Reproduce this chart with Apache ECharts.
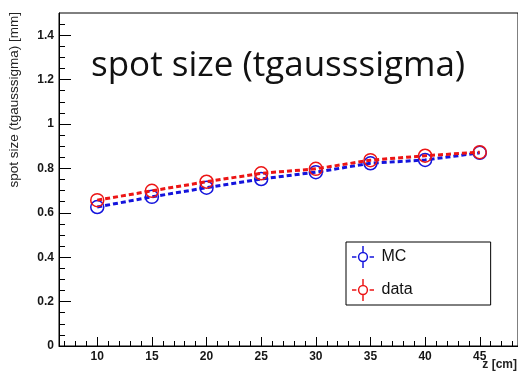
<!DOCTYPE html>
<html>
<head>
<meta charset="utf-8">
<script src="https://cdn.jsdelivr.net/npm/echarts@6/dist/echarts.min.js"></script>
<style>
  html, body { margin: 0; padding: 0; background: #fff; }
  #chart { width: 518px; height: 377px; }
</style>
</head>
<body>
<div id="chart"></div>
<script>
// Beam position along z [cm]
const zValues = [10, 15, 20, 25, 30, 35, 40, 45];
// Fitted spot size (tgausssigma) [mm]
const mcSigma   = [0.626, 0.672, 0.713, 0.752, 0.783, 0.823, 0.838, 0.870];
const dataSigma = [0.657, 0.699, 0.740, 0.778, 0.798, 0.837, 0.857, 0.873];

// Tick marks
const xMajorTicks = [10, 15, 20, 25, 30, 35, 40, 45];
const xMinorTicks = [7, 8, 9, 11, 12, 13, 14, 16, 17, 18, 19, 21, 22, 23, 24, 26, 27, 28, 29,
                     31, 32, 33, 34, 36, 37, 38, 39, 41, 42, 43, 44, 46, 47, 48];
const yMajorTicks = [0, 0.2, 0.4, 0.6, 0.8, 1, 1.2, 1.4];
const yMinorTicks = [0.05, 0.1, 0.15, 0.25, 0.3, 0.35, 0.45, 0.5, 0.55, 0.65, 0.7, 0.75,
                     0.85, 0.9, 0.95, 1.05, 1.1, 1.15, 1.25, 1.3, 1.35, 1.45];

const BLUE = '#1414dc';
const RED = '#ec1515';
const FONT = '"Liberation Sans", Arial, sans-serif';

// Legend marker: dashes, open circle and error bar
const markerIcon = 'path://M0 14L6 14L6 16L0 16Z M24 14L30 14L30 16L24 16Z ' +
  'M14 0L16 0L16 8.2L14 8.2Z M14 21.8L16 21.8L16 30L14 30Z ' +
  'M8 15A7 7 0 1 1 22 15A7 7 0 1 1 8 15Z M10 15A5 5 0 1 0 20 15A5 5 0 1 0 10 15Z';

const pairs = (ys) => zValues.map((z, i) => [z, ys[i]]);

const chart = echarts.init(document.getElementById('chart'), null, { renderer: 'canvas' });

const tickLabel = { color: '#161616', fontFamily: FONT, fontSize: 12, fontWeight: 'bold' };

chart.setOption({
  animation: false,
  backgroundColor: '#ffffff',
  grid: {
    left: 59, top: 13, right: -3, bottom: 31,
    show: true, borderColor: '#000', borderWidth: 1, backgroundColor: 'transparent'
  },
  xAxis: [
    {
      type: 'value', min: 6.5, max: 48.5, position: 'bottom',
      axisLine: { show: true, lineStyle: { color: '#000', width: 1 } },
      axisTick: { show: true, inside: true, length: 9, customValues: xMajorTicks, lineStyle: { color: '#000' } },
      axisLabel: { customValues: xMajorTicks, margin: 5, ...tickLabel },
      splitLine: { show: false }
    },
    {
      type: 'value', min: 6.5, max: 48.5, position: 'bottom',
      axisLine: { show: false },
      axisTick: { show: true, inside: true, length: 5, customValues: xMinorTicks, lineStyle: { color: '#000' } },
      axisLabel: { show: false },
      splitLine: { show: false }
    }
  ],
  yAxis: [
    {
      type: 'value', min: 0, max: 1.5, position: 'left',
      axisLine: { show: true, lineStyle: { color: '#000', width: 1 } },
      axisTick: { show: true, inside: true, length: 12, customValues: yMajorTicks, lineStyle: { color: '#000' } },
      axisLabel: { customValues: yMajorTicks, margin: 5, ...tickLabel },
      splitLine: { show: false }
    },
    {
      type: 'value', min: 0, max: 1.5, position: 'left',
      axisLine: { show: false },
      axisTick: { show: true, inside: true, length: 6, customValues: yMinorTicks, lineStyle: { color: '#000' } },
      axisLabel: { show: false },
      splitLine: { show: false }
    }
  ],
  legend: {
    orient: 'vertical',
    left: 346, top: 242,
    padding: [4, 78, 4, 6],
    itemGap: 11,
    itemWidth: 23, itemHeight: 22,
    backgroundColor: '#fff',
    borderColor: '#000', borderWidth: 1, borderRadius: 0,
    textStyle: { fontFamily: FONT, fontSize: 16, color: '#111', padding: [0, 0, 0, 2] },
    data: [
      { name: 'MC', icon: markerIcon, itemStyle: { color: BLUE, borderWidth: 0 } },
      { name: 'data', icon: markerIcon, itemStyle: { color: RED, borderWidth: 0 } }
    ]
  },
  series: [
    {
      name: 'MC', type: 'line', xAxisIndex: 0, yAxisIndex: 0,
      data: pairs(mcSigma),
      symbol: 'circle', symbolSize: 13,
      itemStyle: { color: 'rgba(0,0,0,0)', borderColor: BLUE, borderWidth: 1.5 },
      lineStyle: { color: BLUE, width: 3, type: [5, 3] },
      z: 3
    },
    {
      name: 'data', type: 'line', xAxisIndex: 0, yAxisIndex: 0,
      data: pairs(dataSigma),
      symbol: 'circle', symbolSize: 13,
      itemStyle: { color: 'rgba(0,0,0,0)', borderColor: RED, borderWidth: 1.5 },
      lineStyle: { color: RED, width: 3, type: [5, 3] },
      z: 4
    }
  ],
  graphic: [
    {
      type: 'text', x: 91, y: 66,
      style: {
        text: 'spot size (tgausssigma)', fill: '#111',
        font: '400 35px "Open Sans", sans-serif', align: 'left', verticalAlign: 'middle'
      }
    },
    {
      type: 'text', x: 14, y: 12, rotation: Math.PI / 2,
      style: {
        text: 'spot size (tgausssigma) [mm]', fill: '#222',
        font: '13.5px "Liberation Sans", Arial, sans-serif', align: 'right', verticalAlign: 'middle'
      }
    },
    {
      type: 'text', x: 517, y: 365,
      style: {
        text: 'z [cm]', fill: '#222',
        font: 'bold 12px "Liberation Sans", Arial, sans-serif', align: 'right', verticalAlign: 'middle'
      }
    }
  ]
});
</script>
</body>
</html>
